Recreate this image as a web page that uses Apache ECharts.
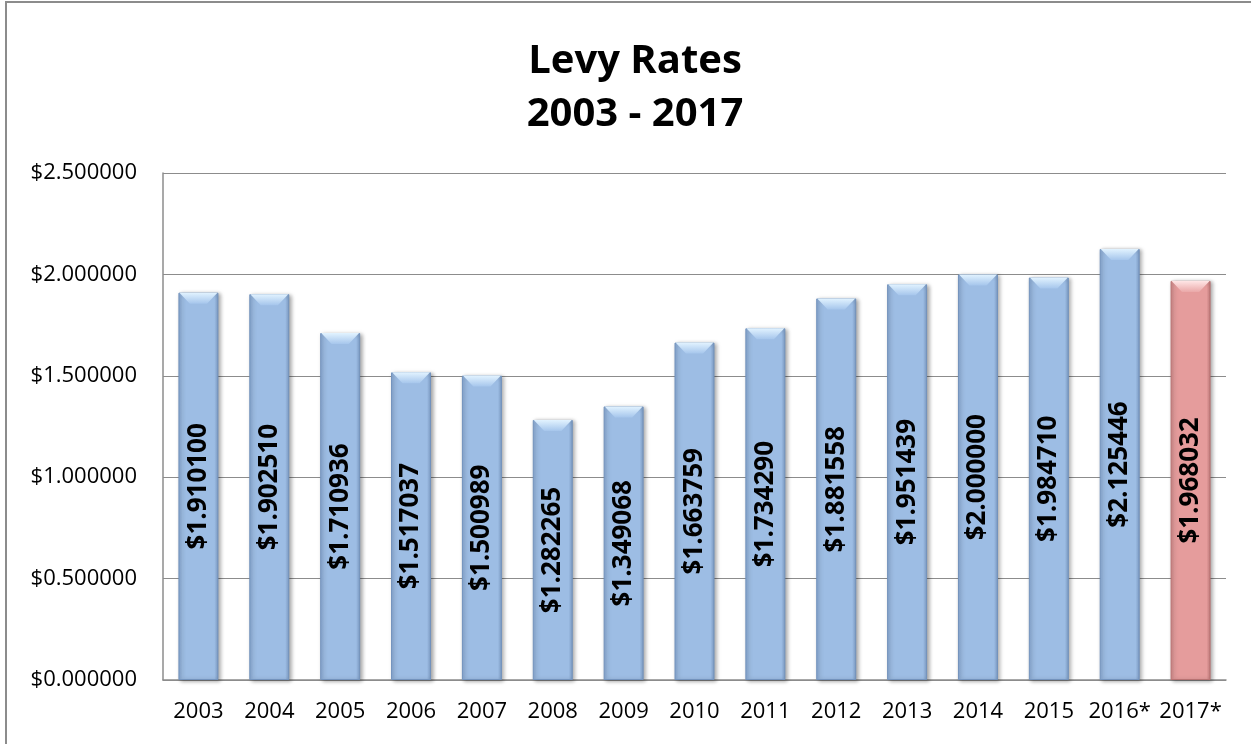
<!DOCTYPE html>
<html>
<head>
<meta charset="utf-8">
<title>Levy Rates 2003 - 2017</title>
<script src="https://cdn.jsdelivr.net/npm/echarts@6/dist/echarts.min.js"></script>
<style>
  html, body { margin: 0; padding: 0; background: #ffffff; overflow: hidden; }
  #frame { position: absolute; left: 5px; top: 1px; width: 1300px; height: 800px;
           border: 2px solid #8c8c8c; box-sizing: border-box; }
  #chart { position: absolute; left: 0; top: 0; width: 1251px; height: 744px; }
</style>
</head>
<body>
<div id="frame"></div>
<div id="chart"></div>
<script>
// Levy rate per year; starred years are estimates
const years = ['2003', '2004', '2005', '2006', '2007', '2008', '2009', '2010',
               '2011', '2012', '2013', '2014', '2015', '2016*', '2017*'];
const levyRates = [1.910100, 1.902510, 1.710936, 1.517037, 1.500989, 1.282265, 1.349068,
                   1.663759, 1.734290, 1.881558, 1.951439, 2.000000, 1.984710, 2.125446, 1.968032];
const yTicks = [0, 0.5, 1.0, 1.5, 2.0, 2.5];

const highlightYear = '2017*';
const FONT = '"Open Sans", "Liberation Sans", sans-serif';
const BAR_W = 40;

function bodyGradient(edgeL, mid, edgeR) {
  return new echarts.graphic.LinearGradient(0, 0, 1, 0, [
    { offset: 0, color: edgeL },
    { offset: 0.1, color: mid },
    { offset: 0.9, color: mid },
    { offset: 1, color: edgeR }
  ]);
}
function capGradient(top, bottom) {
  return new echarts.graphic.LinearGradient(0, 0, 0, 1, [
    { offset: 0, color: top },
    { offset: 1, color: bottom }
  ]);
}

const blueBody = bodyGradient('#86A6D0', '#9DBDE4', '#7C9BC4');
const pinkBody = bodyGradient('#CC8787', '#E59C9C', '#C27C7C');
const blueCap = capGradient('#E2F3FF', '#A6C6EC');
const pinkCap = capGradient('#FFE6E6', '#EAA9A9');

const barData = levyRates.map((v, i) => ({
  value: v,
  itemStyle: { color: years[i] === highlightYear ? pinkBody : blueBody,
               borderColor: years[i] === highlightYear ? '#B87272' : '#7393BD' }
}));
const capData = levyRates.map((v, i) => ({
  value: v,
  itemStyle: { color: years[i] === highlightYear ? pinkCap : blueCap }
}));

const chart = echarts.init(document.getElementById('chart'), null, { renderer: 'canvas' });
chart.setOption({
  animation: false,
  backgroundColor: 'transparent',
  title: {
    text: 'Levy Rates\n2003 - 2017',
    left: 630,
    top: 30,
    textAlign: 'center',
    textStyle: { fontFamily: FONT, fontSize: 40, fontWeight: 'bold', color: '#000', lineHeight: 53 }
  },
  grid: { left: 163, right: 25, top: 173, bottom: 64, containLabel: false },
  xAxis: {
    type: 'category',
    data: years,
    axisLine: { lineStyle: { color: '#8c8c8c', width: 1.5 } },
    axisTick: { show: false },
    axisLabel: { interval: 0, fontFamily: FONT, fontSize: 22, color: '#000', margin: 21 }
  },
  yAxis: {
    type: 'value',
    min: yTicks[0],
    max: yTicks[yTicks.length - 1],
    interval: yTicks[1] - yTicks[0],
    axisLine: { show: true, lineStyle: { color: '#8c8c8c', width: 1.5 } },
    axisTick: { show: false },
    splitLine: { lineStyle: { color: '#8c8c8c', width: 1.2 } },
    axisLabel: {
      fontFamily: FONT, fontSize: 22, color: '#000', margin: 26,
      formatter: v => '$' + v.toFixed(6)
    }
  },
  series: [
    {
      type: 'bar',
      data: barData,
      barWidth: BAR_W,
      itemStyle: {
        borderWidth: 1,
        shadowColor: 'rgba(0,0,0,0.35)', shadowBlur: 4, shadowOffsetX: 2, shadowOffsetY: 1
      },
      label: {
        show: true,
        position: 'inside',
        rotate: 90,
        fontFamily: FONT,
        fontSize: 26,
        fontWeight: 'bold',
        color: '#000',
        formatter: p => '$' + p.value.toFixed(6)
      },
      z: 2
    },
    {
      // bevelled top edge of each bar
      type: 'pictorialBar',
      data: capData,
      symbol: 'path://M0,0 L40,0 L29,11 L11,11 Z',
      symbolSize: [BAR_W - 2, 11],
      symbolPosition: 'end',
      symbolOffset: [0, 0],
      silent: true,
      z: 3
    }
  ]
});
</script>
</body>
</html>
